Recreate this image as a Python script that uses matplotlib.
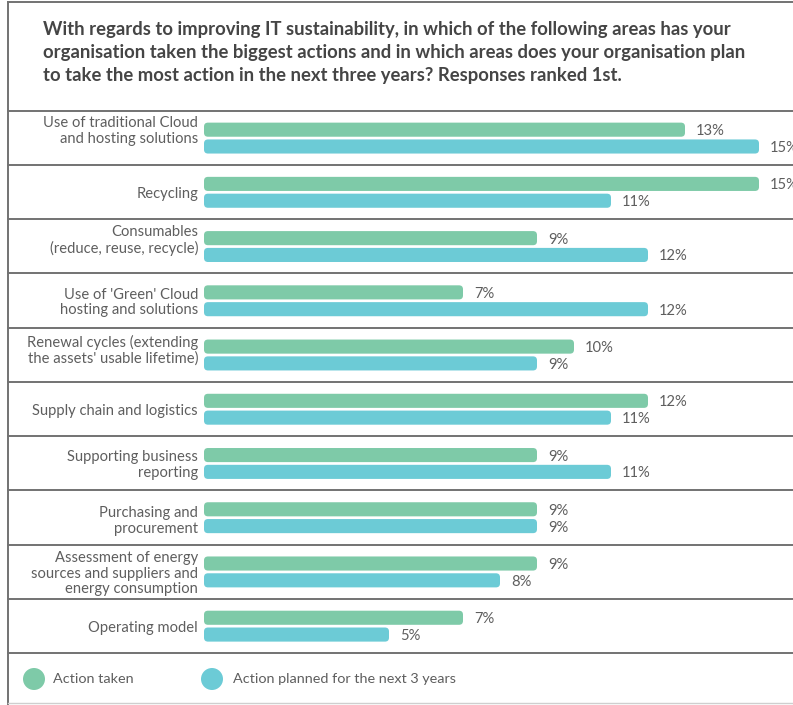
import matplotlib
matplotlib.use("Agg")
import matplotlib.pyplot as plt
from matplotlib.patches import FancyBboxPatch, Ellipse
from matplotlib.lines import Line2D

categories = [
    "Use of traditional Cloud\nand hosting solutions",
    "Recycling",
    "Consumables\n(reduce, reuse, recycle)",
    "Use of 'Green' Cloud\nhosting and solutions",
    "Renewal cycles (extending\nthe assets' usable lifetime)",
    "Supply chain and logistics",
    "Supporting business\nreporting",
    "Purchasing and\nprocurement",
    "Assessment of energy\nsources and suppliers and\nenergy consumption",
    "Operating model",
]
action_taken = [13, 15, 9, 7, 10, 12, 9, 9, 9, 7]
action_planned = [15, 11, 12, 12, 9, 11, 11, 9, 8, 5]
series_names = ["Action taken", "Action planned for the next 3 years"]
title = ("With regards to improving IT sustainability, in which of the following areas has your\n"
         "organisation taken the biggest actions and in which areas does your organisation plan\n"
         "to take the most action in the next three years? Responses ranked 1st.")

GREEN = "#7ecaa8"
CYAN = "#6ccbd6"
LINE = "#727272"
TEXT = "#5e5e5e"
W, H = 793, 705

plt.rcParams["font.family"] = ["Lato", "DejaVu Sans"]

fig = plt.figure(figsize=(W / 100, H / 100), dpi=100)

# bar area in pixels: x 204 -> 759 is 0 -> 15 %, rows from y 110.7 to 653
x0, x1 = 204, 759
y_top, y_bot = 110.7, 653
ax = fig.add_axes([x0 / W, (H - y_bot) / H, (x1 - x0) / W, (y_bot - y_top) / H])
n = len(categories)
ax.set_xlim(0, 15)
ax.set_ylim(n, 0)
ax.axis("off")

px_x = 15 / (x1 - x0)
px_y = n / (y_bot - y_top)
bar_h = 0.26
offsets = [0.22, 0.53]
# small vertical nudges (px) of the row labels, as in the original layout
label_shift = [-6.5, 2, -5.5, 2, -4.5, 2, 2, 3.5, 2, 2]

for i, cat in enumerate(categories):
    for val, off, col in zip((action_taken[i], action_planned[i]), offsets, (GREEN, CYAN)):
        p = FancyBboxPatch((0, i + off), val, bar_h,
                           boxstyle="round,pad=0,rounding_size=%f" % (4 * px_x),
                           mutation_aspect=px_y / px_x,
                           fc=col, ec="none")
        ax.add_patch(p)
        ax.text(val + 11 * px_x, i + off + bar_h / 2 + 1.5 * px_y, f"{val}%", ha="left",
                va="center", fontsize=10.6, color=TEXT, clip_on=False)
    ax.text(-6 * px_x, i + 0.5 + label_shift[i] * px_y, cat, ha="right", va="center",
            fontsize=10.6, color=TEXT, linespacing=1.15, clip_on=False)

# row separators
for i in range(n + 1):
    ax.axhline(i, xmin=(8 - x0) / (x1 - x0), xmax=(W + 5 - x0) / (x1 - x0),
               color=LINE, lw=1.4, clip_on=False)

# outer frame
fig.add_artist(Line2D([8 / W, 8 / W], [0, 1 - 2 / H], color=LINE, lw=1.4))
fig.add_artist(Line2D([8 / W, 1], [1 - 2 / H, 1 - 2 / H], color=LINE, lw=1.4))
fig.add_artist(Line2D([8 / W, 1], [2 / H, 2 / H], color="#cfcfcf", lw=1.0))

fig.text(43 / W, 1 - 21 / H, title, ha="left", va="top", fontsize=13.3,
         fontweight="bold", color="#454545", linespacing=1.42)

# legend
for cx, tx, col, name in [(34, 53, GREEN, series_names[0]), (212, 233, CYAN, series_names[1])]:
    fig.add_artist(Ellipse((cx / W, 1 - 679 / H), 22 / W, 22 / H, fc=col, ec="none",
                           transform=fig.transFigure))
    fig.text(tx / W, 1 - 679 / H, name, ha="left", va="center", fontsize=10.4, color=TEXT)

fig.savefig("out.png", dpi=100, facecolor="white")
